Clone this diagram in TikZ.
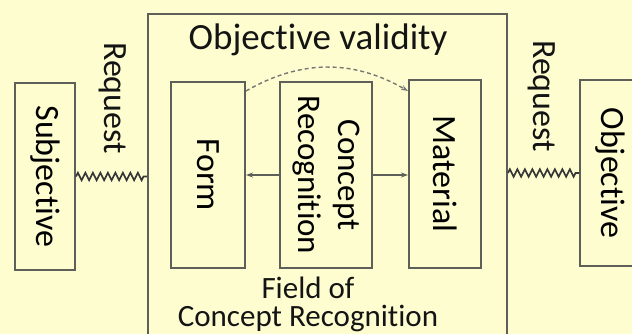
\documentclass[tikz,border=0pt]{standalone}
\usepackage{fontspec}
\setmainfont[Ligatures=NoCommon]{Carlito}
\usetikzlibrary{arrows.meta,positioning,calc,decorations.pathmorphing}
\definecolor{paper}{RGB}{253,253,208}
\definecolor{ink}{RGB}{20,20,20}
\definecolor{edge}{RGB}{95,95,90}
\tikzset{
  part/.style={draw=edge,line width=2pt,inner sep=0pt,align=center},
  vtext/.style={font=\fontsize{34}{40}\selectfont,text=ink},
  wave/.style={draw=ink!85,line width=1.6pt,decorate,
    decoration={zigzag,segment length=7.5pt,amplitude=3.8pt}},
  arr/.style={-{Stealth[length=7pt,width=5pt]},draw=edge,line width=1.4pt},
}
\newcommand{\vt}[1]{\rotatebox{-90}{#1}}
\begin{document}
\begin{tikzpicture}[x=1pt,y=1pt]
\clip (0,0) rectangle (632,334);
\fill[paper] (0,0) rectangle (632,334);
% outer field
\node[part,minimum width=359pt,minimum height=340pt] (field) at (327.5,150) {};
\node[vtext,font=\fontsize{37}{40}\selectfont] (valid) at (318,294) {Objective validity};
\node[vtext,align=center,font=\fontsize{31}{28}\selectfont] (fieldlbl) at (308,30)
  {Field of\\Concept Recognition};

% outer parts
\node[part,minimum width=60pt,minimum height=187pt] (subj) at (45,157.5)
  {\vt{\fontsize{34}{40}\selectfont Subjective}};
\node[part,minimum width=60pt,minimum height=186pt] (obj) at (610,161)
  {\vt{\fontsize{34}{40}\selectfont Objective}};

% inner parts
\node[part,minimum width=74pt,minimum height=186pt] (form) at (208,159)
  {\vt{\fontsize{34}{40}\selectfont Form}};
\node[part,minimum width=92pt,minimum height=186pt] (cr) at (326,159)
  {\vt{\fontsize{33}{40}\selectfont\begin{tabular}{@{}c@{}}Concept\\Recognition\end{tabular}}};
\node[part,minimum width=72pt,minimum height=188pt] (mat) at (445,160)
  {\vt{\fontsize{34}{40}\selectfont Material}};

% requests
\node[vtext,rotate=-90] (reqL) at (113,236) {Request};
\node[vtext,rotate=-90] (reqR) at (542,238) {Request};

% links
\draw[wave] (subj.east) -- (subj.east -| field.west);
\draw[wave] (obj.west -| field.east) -- (obj.west);
\draw[arr] (cr.west) -- (form.east);
\draw[arr] (cr.east) -- (cr.east -| mat.west);
\draw[arr,dash pattern=on 4pt off 3pt,draw=edge!85] ([yshift=-10pt]form.north east)
  to[out=30,in=150] ([yshift=-12pt]mat.north west);
\end{tikzpicture}
\end{document}
